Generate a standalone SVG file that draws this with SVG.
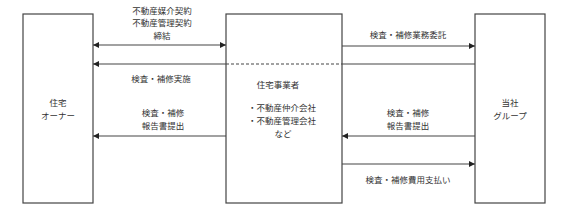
<svg xmlns="http://www.w3.org/2000/svg" width="566" height="214" viewBox="0 0 566 214">
<defs>
<marker id="ah" viewBox="0 0 10 10" refX="10" refY="5" markerWidth="6" markerHeight="6" orient="auto-start-reverse" markerUnits="userSpaceOnUse">
<path d="M0,0 L10,5 L0,10 z" fill="#222"/>
</marker>
<style>
.box{fill:#fff;stroke:#444;stroke-width:1.2}
.ln{stroke:#444;stroke-width:1.2;fill:none}
.t{font-family:"Noto Sans CJK JP","Noto Sans",sans-serif;font-size:8.5px;fill:#333;text-anchor:middle}
.l{text-anchor:start}
</style>
</defs>
<rect width="566" height="214" fill="#fff"/>
<g id="owner">
<rect class="box" x="23" y="14" width="70" height="189"/>
<text class="t" x="58" y="106">住宅</text>
<text class="t" x="58" y="118.5">オーナー</text>
</g>
<g id="builder">
<rect class="box" x="226" y="14" width="116" height="189"/>
<text class="t" x="278" y="88">住宅事業者</text>
<text class="t l" x="248" y="111">・不動産仲介会社</text>
<text class="t l" x="248" y="124">・不動産管理会社</text>
<text class="t" x="283" y="137">など</text>
</g>
<g id="group">
<rect class="box" x="475" y="14" width="70" height="189"/>
<text class="t" x="510" y="106">当社</text>
<text class="t" x="510" y="118.5">グループ</text>
</g>
<g id="connectors">
<line class="ln" x1="93" y1="45" x2="226" y2="45" marker-start="url(#ah)" marker-end="url(#ah)"/>
<line class="ln" x1="226" y1="64" x2="93" y2="64" marker-end="url(#ah)"/>
<line class="ln" x1="226" y1="64" x2="342" y2="64" stroke-dasharray="3,2"/>
<line class="ln" x1="342" y1="64" x2="475" y2="64"/>
<line class="ln" x1="342" y1="46" x2="475" y2="46" marker-end="url(#ah)"/>
<line class="ln" x1="226" y1="136" x2="93" y2="136" marker-end="url(#ah)"/>
<line class="ln" x1="475" y1="136" x2="342" y2="136" marker-end="url(#ah)"/>
<line class="ln" x1="342" y1="164" x2="475" y2="164" marker-end="url(#ah)"/>
</g>
<g id="labels">
<text class="t" x="162" y="13.5">不動産媒介契約</text>
<text class="t" x="162" y="26">不動産管理契約</text>
<text class="t" x="162" y="38.5">締結</text>
<text class="t" x="161" y="82">検査・補修実施</text>
<text class="t" x="163" y="116">検査・補修</text>
<text class="t" x="163" y="128.5">報告書提出</text>
<text class="t" x="408" y="38">検査・補修業務委託</text>
<text class="t" x="408" y="116">検査・補修</text>
<text class="t" x="408" y="128.5">報告書提出</text>
<text class="t" x="408" y="183">検査・補修費用支払い</text>
</g>
</svg>
